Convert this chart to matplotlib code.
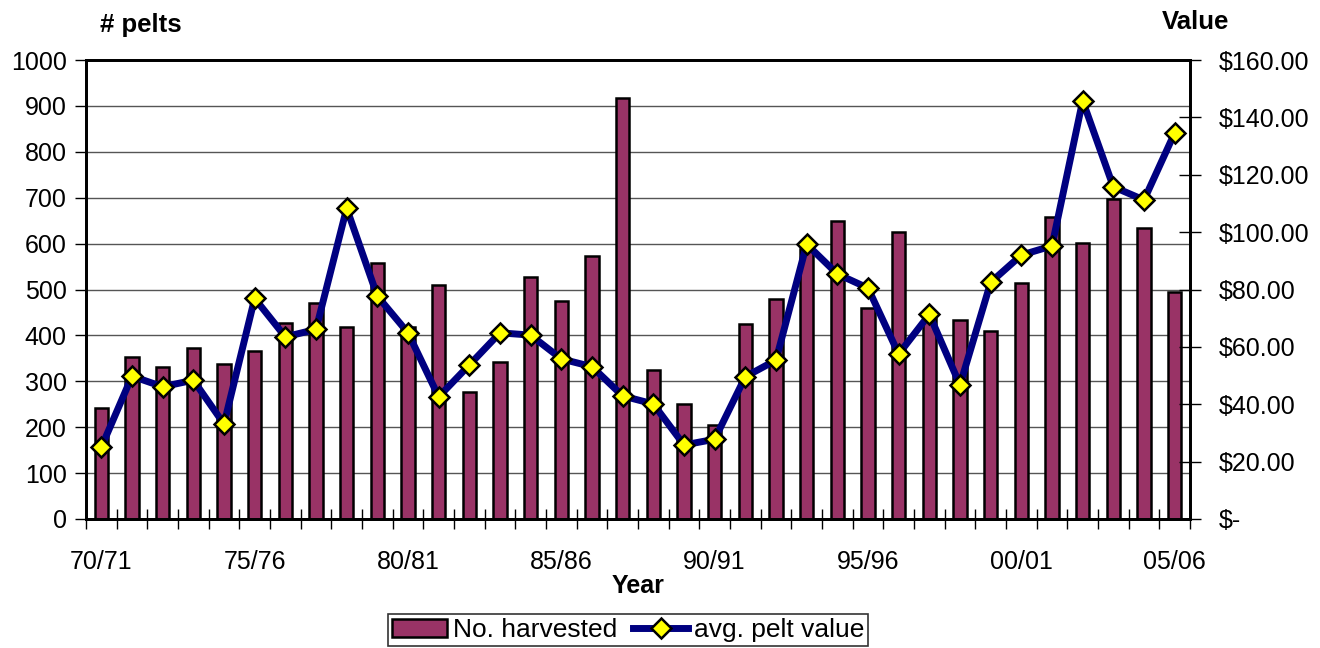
import numpy as np
import matplotlib.pyplot as plt
from matplotlib.ticker import FixedLocator, FuncFormatter
from matplotlib.lines import Line2D
from matplotlib.patches import Patch

plt.rcParams['font.family'] = ['Liberation Sans', 'DejaVu Sans']

### data ###
seasons = ["70/71", "71/72", "72/73", "73/74", "74/75", "75/76", "76/77", "77/78", "78/79", "79/80",
           "80/81", "81/82", "82/83", "83/84", "84/85", "85/86", "86/87", "87/88", "88/89", "89/90",
           "90/91", "91/92", "92/93", "93/94", "94/95", "95/96", "96/97", "97/98", "98/99", "99/00",
           "00/01", "01/02", "02/03", "03/04", "04/05", "05/06"]
harvested = [242, 354, 332, 373, 338, 365, 428, 470, 418, 557,
             418, 510, 277, 341, 528, 475, 573, 917, 325, 250,
             205, 424, 479, 588, 649, 459, 626, 450, 434, 410,
             515, 659, 601, 697, 633, 494]
pelt_value = [25.0, 49.8, 46.1, 48.4, 33.1, 76.9, 63.5, 66.1, 108.3, 77.7,
              64.9, 42.6, 53.7, 64.9, 64.1, 55.8, 53.1, 42.9, 40.1, 25.8,
              27.8, 49.6, 55.4, 95.8, 85.4, 80.5, 57.5, 71.3, 46.7, 82.5,
              92.0, 95.2, 145.8, 115.8, 111.2, 134.6]
label_every = 5

FS = 18
W, H = 1320, 648
fig = plt.figure(figsize=(W / 100, H / 100), dpi=100)
ax = fig.add_axes([86 / W, (H - 519) / H, (1190 - 86) / W, (519 - 60) / H])

x = np.arange(len(seasons))
bars = ax.bar(x, harvested, 0.43, color="#993366", edgecolor="black", linewidth=1.8, zorder=2)

ax.set_xlim(-0.5, len(seasons) - 0.5)
ax.set_ylim(0, 1000)
ax.set_yticks(np.arange(0, 1001, 100))
ax.yaxis.grid(True, color="#555555", linewidth=1.0, zorder=0)
ax.set_axisbelow(True)
ax.tick_params(axis="y", labelsize=FS, length=8, width=1, direction="out", pad=6)

# category labels every 5 seasons, ticks on category boundaries
ax.set_xticks(x[::label_every])
ax.set_xticklabels(seasons[::label_every])
ax.xaxis.set_minor_locator(FixedLocator(np.arange(-0.5, len(seasons), 1)))
ax.tick_params(axis="x", which="major", length=0, labelsize=FS, pad=22)
ax.tick_params(axis="x", which="minor", length=15, width=1, direction="inout")
ax.set_xlabel("Year", fontsize=FS, fontweight="bold", labelpad=0)

for s in ax.spines.values():
    s.set_linewidth(2)

# second axis for pelt value
ax2 = ax.twinx()
ax2.plot(x, pelt_value, color="#000080", linewidth=5, marker="D", markersize=10,
         markerfacecolor="#FFFF00", markeredgecolor="black", markeredgewidth=1.8, zorder=3)
ax2.set_ylim(0, 160)
ax2.set_yticks(np.arange(0, 161, 20))
ax2.yaxis.set_major_formatter(FuncFormatter(lambda v, p: "$-" if v == 0 else "${:.2f}".format(v)))
ax2.tick_params(axis="y", labelsize=FS, length=16, width=1, direction="inout", pad=13)
for s in ax2.spines.values():
    s.set_linewidth(2)

fig.text(100 / W, 1 - 25 / H, "# pelts", fontsize=FS + 0.5, fontweight="bold", ha="left", va="center")
fig.text(1162 / W, 1 - 22 / H, "Value", fontsize=FS + 0.5, fontweight="bold", ha="left", va="center")

handles = [Patch(facecolor="#993366", edgecolor="black", linewidth=1.8),
           Line2D([], [], color="#000080", linewidth=5, marker="D", markersize=10,
                  markerfacecolor="#FFFF00", markeredgecolor="black", markeredgewidth=1.8)]
leg = fig.legend(handles, ["No. harvested", "avg. pelt value"], loc="center",
                 bbox_to_anchor=(628 / W, 1 - 630 / H), ncol=2, fontsize=FS + 1, frameon=True,
                 fancybox=False, edgecolor="black", handlelength=2.1, handletextpad=0.2,
                 columnspacing=0.6, borderpad=0.15, borderaxespad=0)
leg.get_frame().set_linewidth(1.2)

fig.savefig("out.png", dpi=100)
